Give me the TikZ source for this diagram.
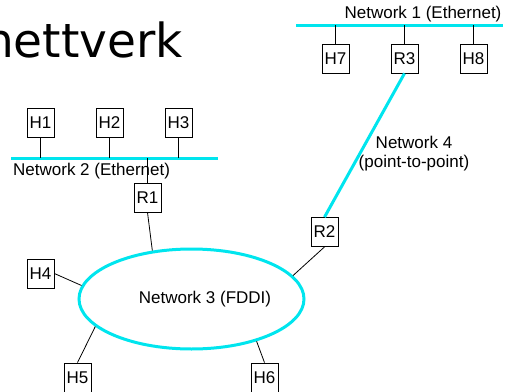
\documentclass[tikz,border=0pt]{standalone}
\usepackage{fontspec}
\setmainfont{Liberation Sans}
\newfontfamily\titlefont{DejaVu Sans}
\usetikzlibrary{shapes.geometric}
\definecolor{netcyan}{RGB}{0,229,238}
\begin{document}
\begin{tikzpicture}[x=1pt,y=-1pt,
  hostbox/.style={draw,line width=0.8pt,minimum width=27pt,minimum height=29pt,inner sep=0pt,font=\fontsize{17}{17}\selectfont},
  netline/.style={draw=netcyan,line width=3pt},
  tick/.style={draw,line width=0.8pt},
  lbl/.style={inner sep=0pt,font=\fontsize{17}{19}\selectfont}]
\useasboundingbox (0,0) rectangle (506,391);
% title
\node[anchor=base west,inner sep=0pt,font=\titlefont\fontsize{47}{47}\selectfont] (title) at (-16,57) {nettverk};
% Network 1
\coordinate (n1a) at (296,25);
\coordinate (n1b) at (503,25);
\draw[netline] (n1a) -- (n1b);
\node[lbl] (n1lbl) at (423,14) {Network 1 (Ethernet)};
\node[hostbox] (H7) at (335.5,58.5) {H7};
\node[hostbox] (R3) at (404.5,58.5) {R3};
\node[hostbox] (H8) at (473.5,58.5) {H8};
\foreach \n in {H7,R3,H8} \draw[tick] (\n.north) -- (\n.north |- n1a);
% Network 2
\coordinate (n2a) at (11,158);
\coordinate (n2b) at (218,158);
\draw[netline] (n2a) -- (n2b);
\node[lbl,anchor=west] (n2lbl) at (13,171) {Network 2 (Ethernet)};
\node[hostbox] (H1) at (40.5,122.5) {H1};
\node[hostbox] (H2) at (109.5,122.5) {H2};
\node[hostbox] (H3) at (178.5,122.5) {H3};
\foreach \n in {H1,H2,H3} \draw[tick] (\n.south) -- (\n.south |- n2a);
\node[hostbox] (R1) at (147.5,197.5) {R1};
\draw[tick] (R1.north) -- (R1.north |- n2a);
% Network 3
\node[ellipse,draw=netcyan,line width=3pt,minimum width=225pt,minimum height=100pt,inner sep=0pt] (fddi) at (191.5,299) {};
\node[lbl] (n3lbl) at (205,299) {Network 3 (FDDI)};
\node[hostbox] (H4) at (40.5,273.5) {H4};
\node[hostbox] (H5) at (77.5,377.5) {H5};
\node[hostbox] (H6) at (264.5,377.5) {H6};
\node[hostbox] (R2) at (324.5,232) {R2};
\draw[tick] (R1.south) -- (fddi.129);
\draw[tick] (H4.east) -- (fddi.173);
\draw[tick] (H5.north) -- (fddi.196);
\draw[tick] (H6.north) -- (fddi.327);
\draw[tick] (R2.south) -- (fddi.13);
% Network 4
\draw[netline] (R3.south) -- (R2.north);
\node[lbl,align=center] (n4lbl) at (414,153.5) {Network 4\\(point-to-point)};
\end{tikzpicture}
\end{document}
